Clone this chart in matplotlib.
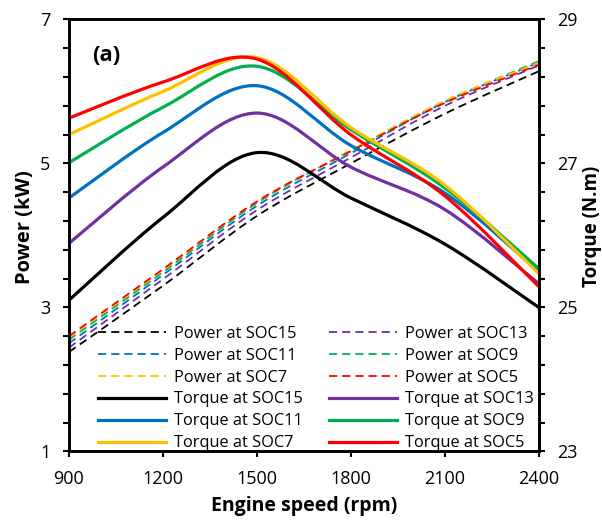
import numpy as np
import matplotlib
matplotlib.use("Agg")
import matplotlib.pyplot as plt
from matplotlib.path import Path
from matplotlib.patches import PathPatch
from matplotlib.lines import Line2D
from matplotlib.ticker import FixedLocator

plt.rcParams['font.family'] = ['Open Sans', 'DejaVu Sans']

rpm = [900, 1200, 1500, 1800, 2100, 2400]
soc_names = ["SOC15", "SOC13", "SOC11", "SOC9", "SOC7", "SOC5"]
colors = ["#000000", "#7030A0", "#0070C0", "#00B050", "#FFC000", "#FF0000"]

# power (kW), left axis
power_soc15 = [2.38, 3.30, 4.27, 5.00, 5.69, 6.28]
power_soc13 = [2.44, 3.39, 4.35, 5.08, 5.80, 6.36]
power_soc11 = [2.50, 3.45, 4.41, 5.14, 5.85, 6.40]
power_soc9 = [2.55, 3.49, 4.45, 5.18, 5.86, 6.42]
power_soc7 = [2.58, 3.52, 4.47, 5.18, 5.87, 6.40]
power_soc5 = [2.60, 3.53, 4.47, 5.17, 5.84, 6.37]

# torque (N.m), right axis
torque_soc15 = [25.10, 26.25, 27.15, 26.52, 25.88, 25.00]
torque_soc13 = [25.89, 26.95, 27.70, 26.95, 26.36, 25.33]
torque_soc11 = [26.52, 27.43, 28.08, 27.25, 26.59, 25.50]
torque_soc9 = [27.01, 27.78, 28.35, 27.47, 26.66, 25.54]
torque_soc7 = [27.40, 28.00, 28.47, 27.50, 26.70, 25.47]
torque_soc5 = [27.63, 28.13, 28.45, 27.40, 26.55, 25.29]

powers = [power_soc15, power_soc13, power_soc11, power_soc9, power_soc7, power_soc5]
torques = [torque_soc15, torque_soc13, torque_soc11, torque_soc9, torque_soc7, torque_soc5]


def smooth_path(x, y):
    # excel style smoothed line -> cubic bezier segments
    pts = np.column_stack([x, y]).astype(float)
    n = len(pts)
    verts = [pts[0]]
    codes = [Path.MOVETO]
    for i in range(n - 1):
        p0 = pts[max(i - 1, 0)]
        p1 = pts[i]
        p2 = pts[i + 1]
        p3 = pts[min(i + 2, n - 1)]
        verts += [p1 + (p2 - p0) / 6, p2 - (p3 - p1) / 6, p2]
        codes += [Path.CURVE4] * 3
    return Path(verts, codes)


dash = (0, (4.5, 2.8))

fig = plt.figure(figsize=(6.02, 5.21), dpi=100)
ax = fig.add_axes([0.1146, 0.1338, 0.7802, 0.8288])
ax2 = ax.twinx()

p_handles = []
t_handles = []
for name, c, p, t in zip(soc_names, colors, powers, torques):
    ax.add_patch(PathPatch(smooth_path(rpm, p), fill=False, edgecolor=c,
                           lw=1.3, linestyle=dash))
    ax2.add_patch(PathPatch(smooth_path(rpm, t), fill=False, edgecolor=c,
                            lw=2.3, capstyle='round'))
    p_handles.append(Line2D([], [], color=c, lw=1.3, linestyle=dash,
                            label="Power at " + name))
    t_handles.append(Line2D([], [], color=c, lw=2.3,
                            label="Torque at " + name))

ax.set_xlim(900, 2400)
ax.set_ylim(1, 7)
ax2.set_ylim(23, 29)
ax.set_xticks([900, 1200, 1500, 1800, 2100, 2400])
ax.set_yticks([1, 3, 5, 7])
ax2.set_yticks([23, 25, 27, 29])
ax.yaxis.set_minor_locator(FixedLocator(np.arange(1, 7.01, 0.4)))
ax2.yaxis.set_minor_locator(FixedLocator(np.arange(23, 29.01, 0.4)))

for a in (ax, ax2):
    for s in a.spines.values():
        s.set_linewidth(1.9)
    a.tick_params(which='both', direction='out', length=4.5, width=1.5,
                  labelsize=13, pad=9)

ax.set_xlabel("Engine speed (rpm)", fontsize=14, fontweight='bold', labelpad=6)
ax.set_ylabel("Power (kW)", fontsize=14.5, fontweight='bold')
ax2.set_ylabel("Torque (N.m)", fontsize=13.5, fontweight='bold')
ax.yaxis.set_label_coords(-0.073, 0.52)
ax2.yaxis.set_label_coords(1.093, 0.52)

ax.text(0.05, 0.905, "(a)", transform=ax.transAxes, fontsize=16,
        fontweight='bold')

order = [0, 2, 4]
handles = [p_handles[i] for i in order] + [t_handles[i] for i in order] \
    + [p_handles[i + 1] for i in order] + [t_handles[i + 1] for i in order]
ax2.legend(handles=handles, ncol=2, loc='lower left',
           bbox_to_anchor=(0.062, 0.0), frameon=False, fontsize=11.8,
           handlelength=4.15, handletextpad=0.5, columnspacing=1.55,
           labelspacing=0.36, borderpad=0, borderaxespad=0)

fig.savefig("out.png", dpi=100)
